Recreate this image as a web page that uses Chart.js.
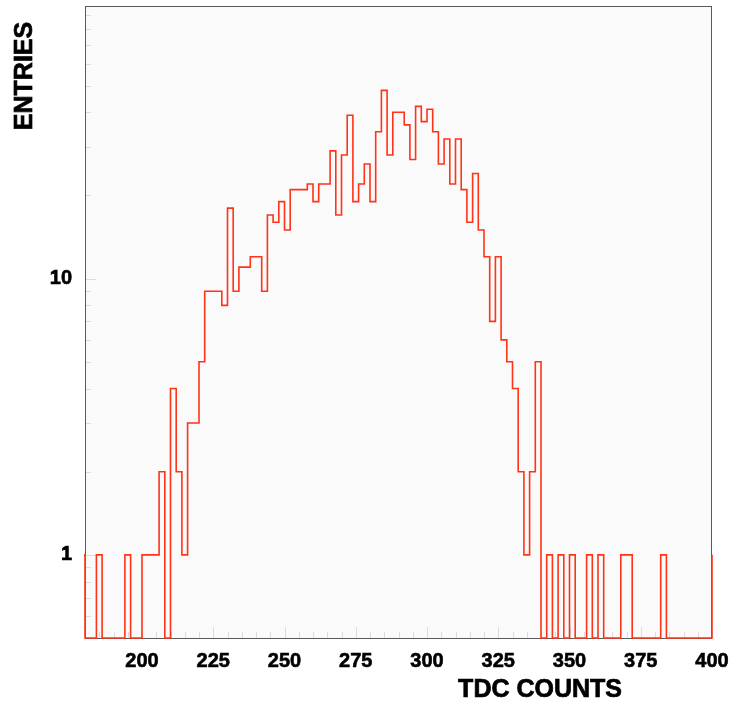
<!DOCTYPE html>
<html>
<head>
<meta charset="utf-8">
<title>TDC counts</title>
<script src="https://cdn.jsdelivr.net/npm/chart.js@4.4.1/dist/chart.umd.min.js"></script>
<style>
  html, body { margin: 0; padding: 0; background: #fff; }
</style>
</head>
<body>
<canvas id="tdcChart" width="731" height="706"></canvas>
<script>
// histogram: 2-count bins from 180 to 400
const binStart = 180;
const binWidth = 2;
const counts = [
  0, 0, 1, 0, 0, 0, 0, 1, 0, 0,
  1, 1, 1, 2, 0, 4, 2, 1, 3, 3,
  5, 9, 9, 9, 8, 18, 9, 11, 11, 12,
  12, 9, 17, 16, 19, 15, 21, 21, 21, 22,
  19, 22, 22, 29, 17, 28, 39, 19, 22, 26,
  19, 34, 48, 28, 40, 40, 36, 27, 42, 37,
  41, 34, 26, 32, 22, 32, 21, 16, 24, 15,
  12, 7, 12, 6, 5, 4, 2, 1, 2, 5,
  0, 1, 0, 1, 0, 1, 0, 0, 1, 0,
  1, 0, 0, 0, 1, 1, 0, 0, 0, 0,
  0, 1, 0, 0, 0, 0, 0, 0, 0, 0
];
// bins just outside the drawn range (only their edges show)
const underflow = 1;
const overflow = 1;

const xRange = [180, 400];
const yRange = [0.5, 97];
const xTicks = [200, 225, 250, 275, 300, 325, 350, 375, 400];
const yTicks = [1, 10];
const yMinorTicks = [0.6, 0.7, 0.8, 0.9, 2, 3, 4, 5, 6, 7, 8, 9, 20, 30, 40, 50, 60, 70, 80, 90];

const lineColor = '#ff3318';
const labelFont = { family: 'Liberation Sans', size: 20, weight: 'bold' };

// each point sits on a bin's left edge and holds its count until the next edge
function histPoints(){
  const pts = [{ x: binStart - binWidth, y: underflow }];
  counts.forEach((c, i) => pts.push({ x: binStart + i * binWidth, y: c > 0 ? c : yRange[0] }));
  const end = binStart + counts.length * binWidth;
  pts.push({ x: end, y: overflow });
  pts.push({ x: end + binWidth, y: overflow });
  return pts;
}

// pad, inside tick marks, frame and axis titles
const tdcFrame = {
  id: 'tdcFrame',
  beforeDatasetsDraw(chart){
    const { ctx, chartArea: a, scales } = chart;
    ctx.save();
    ctx.fillStyle = '#fafafa';
    ctx.fillRect(a.left, a.top, a.right - a.left, a.bottom - a.top);

    ctx.strokeStyle = '#dcdcdc';
    ctx.lineWidth = 1;
    ctx.beginPath();
    for (let v = 185; v < xRange[1]; v += 5){
      const px = Math.round(scales.x.getPixelForValue(v)) + 0.5;
      const len = v % 25 === 0 ? 11 : 6;
      ctx.moveTo(px, a.bottom);
      ctx.lineTo(px, a.bottom - len);
    }
    yTicks.concat(yMinorTicks).forEach(v => {
      const py = Math.round(scales.y.getPixelForValue(v)) + 0.5;
      const len = yTicks.includes(v) ? 11 : 6;
      ctx.moveTo(a.left, py);
      ctx.lineTo(a.left + len, py);
    });
    ctx.stroke();

    ctx.strokeStyle = '#5a5a5a';
    ctx.lineWidth = 1;
    ctx.strokeRect(a.left + 0.5, a.top + 0.5, a.right - a.left - 1, a.bottom - a.top);
    ctx.restore();
  },
  afterDraw(chart){
    const { ctx } = chart;
    ctx.save();
    ctx.fillStyle = '#000';
    ctx.strokeStyle = '#000';
    ctx.lineWidth = 0.7;
    ctx.font = 'bold 25px "Liberation Sans"';
    ctx.textAlign = 'right';
    ctx.textBaseline = 'middle';
    ctx.fillText('TDC COUNTS', 622, 690);
    ctx.strokeText('TDC COUNTS', 622, 690);

    ctx.translate(25, 76);
    ctx.rotate(-Math.PI / 2);
    ctx.font = 'bold 25px "Liberation Sans"';
    ctx.textAlign = 'center';
    ctx.fillText('ENTRIES', 0, 0);
    ctx.strokeText('ENTRIES', 0, 0);
    ctx.restore();
  }
};

new Chart(document.getElementById('tdcChart'), {
  type: 'line',
  data: {
    datasets: [{
      data: histPoints(),
      stepped: 'before',
      borderColor: lineColor,
      borderWidth: 1.6,
      pointRadius: 0,
      fill: false,
      clip: { left: 1, right: 1, top: 0, bottom: 1 }
    }]
  },
  options: {
    responsive: false,
    animation: false,
    events: [],
    layout: { padding: { top: 6, right: 19, bottom: 0, left: 0 } },
    plugins: { legend: { display: false }, tooltip: { enabled: false } },
    scales: {
      x: {
        type: 'linear',
        min: xRange[0],
        max: xRange[1],
        afterBuildTicks: s => { s.ticks = xTicks.map(v => ({ value: v })); },
        afterFit: s => { s.height = 68; s.paddingLeft = 0; s.paddingRight = 0; },
        grid: { display: false, drawTicks: false },
        border: { display: false },
        ticks: { padding: 11, color: '#000', font: labelFont, textStrokeColor: '#000', textStrokeWidth: 0.6,
                 maxRotation: 0, autoSkip: false, callback: v => v }
      },
      y: {
        type: 'logarithmic',
        min: yRange[0],
        max: yRange[1],
        afterBuildTicks: s => { s.ticks = yTicks.map(v => ({ value: v })); },
        afterFit: s => { s.width = 85; s.paddingTop = 0; s.paddingBottom = 0; },
        grid: { display: false, drawTicks: false },
        border: { display: false },
        ticks: { padding: 13, color: '#000', font: labelFont, textStrokeColor: '#000', textStrokeWidth: 0.6,
                 autoSkip: false, callback: v => v }
      }
    }
  },
  plugins: [tdcFrame]
});
</script>
</body>
</html>
